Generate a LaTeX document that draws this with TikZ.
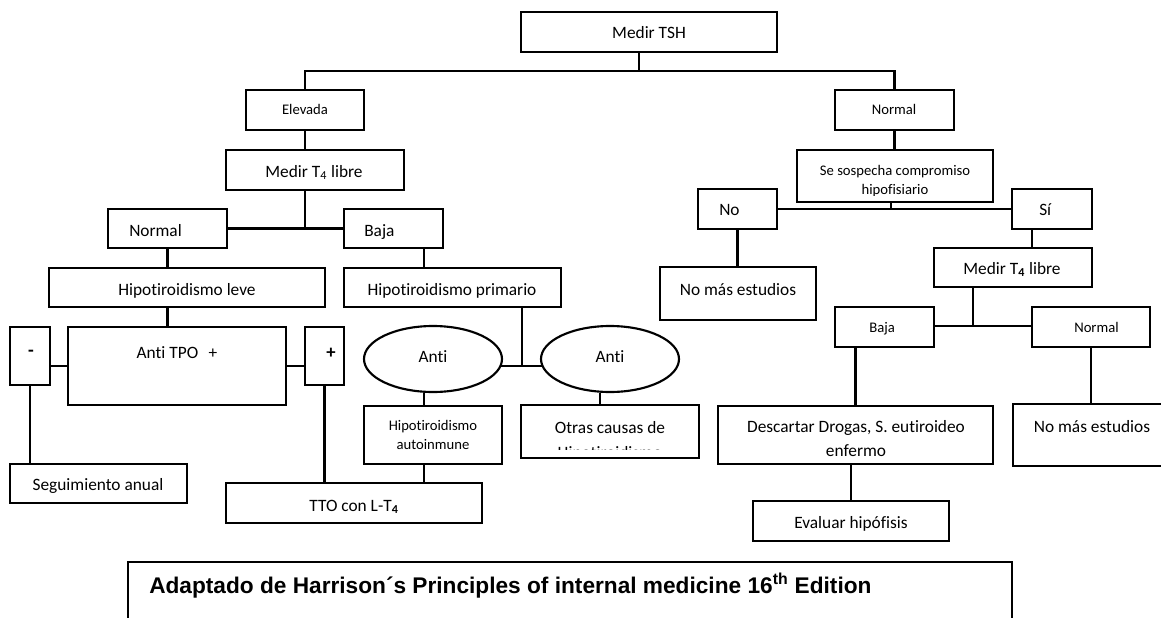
\documentclass[tikz,border=0pt]{standalone}
\usepackage{fontspec}
\setmainfont{Carlito}[Ligatures={NoCommon}]
\newfontfamily\arialfont{Liberation Sans}
\usetikzlibrary{shapes.geometric}
\newcommand\mybox[5]{\node[box, minimum width={(#4-#2)*0.75pt}, minimum height={(#5-#3)*0.75pt}] (#1) at ({(#2+#4)/2},{(#3+#5)/2}) {};}
\begin{document}
\begin{tikzpicture}[x=0.75pt,y=-0.75pt,
  box/.style={draw, line width=1.6pt, inner sep=0pt},
  ellbox/.style={draw, ellipse, line width=1.6pt, inner sep=0pt},
  ln/.style={line width=1.6pt},
  big/.style={font=\fontsize{13}{16}\selectfont, inner sep=0pt, anchor=base},
  small/.style={font=\fontsize{11}{13}\selectfont, inner sep=0pt, anchor=base},
  bigw/.style={big, anchor=base west},
  smallw/.style={small, anchor=base west}]
\useasboundingbox (0,0) rectangle (1161,618);
% boxes
\mybox{tsh}{521}{12}{777}{52}
\mybox{elev}{246}{90}{364}{130}
\mybox{t4a}{226}{150}{404}{190}
\mybox{normA}{108}{209}{227}{248}
\mybox{bajaA}{344}{209}{443}{248}
\mybox{leve}{49}{268}{325}{307}
\mybox{prim}{344}{268}{561}{307}
\mybox{minus}{10}{327}{50}{385}
\mybox{tpo}{68}{327}{286}{405}
\mybox{plus}{305}{327}{344}{385}
\node[ellbox, minimum width=103.5pt, minimum height=49.5pt] (ellA) at (433,359) {};
\node[ellbox, minimum width=103.5pt, minimum height=49.5pt] (ellB) at (610,359) {};
\mybox{auto}{364}{406}{502}{464}
\mybox{otras}{521}{405}{699}{458}
\mybox{seg}{10}{464}{187}{503}
\mybox{tto}{226}{483}{482}{523}
\mybox{normB}{835}{90}{954}{130}
\mybox{sosp}{797}{150}{993}{202}
\mybox{no}{698}{189}{777}{229}
\mybox{si}{1012}{189}{1092}{229}
\mybox{nomasA}{660}{267}{816}{320}
\mybox{t4b}{934}{248}{1092}{287}
\mybox{bajaB}{835}{307}{934}{347}
\mybox{normC}{1032}{307}{1150}{347}
\mybox{desc}{718}{406}{993}{464}
\mybox{nomasB}{1013}{404}{1172}{466}
\mybox{eval}{753}{501}{949}{541}
\mybox{foot}{128}{562}{1012}{650}
% texts
\node[big] (tsh-t) at (649,38) {Medir TSH};
\node[small] (elev-t) at (305,114) {Elevada};
\node[big] (t4a-t) at (314,177) {Medir T\textsubscript{4} libre};
\node[bigw] (normA-t) at (129,236) {Normal};
\node[bigw] (bajaA-t) at (364,236) {Baja};
\node[big] (leve-t) at (187,295) {Hipotiroidismo leve};
\node[big] (prim-t) at (452,295) {Hipotiroidismo primario};
\node[big, anchor=center, font=\fontsize{14}{16}\selectfont] (minus-t) at (31,353) {\textbf{-}};
\node[big] (tpo-t) at (177,358) {Anti TPO\hspace{0.6em}+};
\node[big, anchor=center, font=\fontsize{14}{16}\selectfont] (plus-t) at (331,353) {\textbf{+}};
\node[big] (ellA-t) at (433,362) {Anti};
\node[big] (ellB-t) at (610,362) {Anti};
\node[small] (auto-t1) at (433,430) {Hipotiroidismo};
\node[small] (auto-t2) at (433,449.5) {autoinmune};
\node[big] (otras-t1) at (610,433.5) {Otras causas de};
\begin{scope}
  \clip (523,407) rectangle (697,449.5);
  \node[big] (otras-t2) at (610,458) {Hipotiroidismo};
\end{scope}
\node[big] (seg-t) at (98,490) {Seguimiento anual};
\node[big] (tto-t) at (354,511) {TTO con L-T\textsubscript{\textbf{4}}};
\node[small] (normB-t) at (894,114) {Normal};
\node[small] (sosp-t1) at (895,175) {Se sospecha compromiso};
\begin{scope}
  \clip (799,180) rectangle (991,195.5);
  \node[small] (sosp-t2) at (895,194) {hipofisiario};
\end{scope}
\node[bigw] (no-t) at (719,215) {No};
\node[bigw] (si-t) at (1039,215) {Sí};
\node[big] (nomasA-t) at (738,295) {No más estudios};
\node[big] (t4b-t) at (1012,274) {Medir T\textsubscript{\textbf{4}} libre};
\node[smallw] (bajaB-t) at (869,332) {Baja};
\node[smallw] (normC-t) at (1074,332) {Normal};
\node[big] (desc-t1) at (856,432) {Descartar Drogas, S. eutiroideo};
\node[big] (desc-t2) at (856,456) {enfermo};
\node[big] (nomasB-t) at (1092,432) {No más estudios};
\node[big] (eval-t) at (851,528) {Evaluar hipófisis};
\node[inner sep=0pt, anchor=base west, font=\arialfont\bfseries\fontsize{17}{20}\selectfont] (foot-t) at (149,593) {Adaptado de Harrison´s Principles of internal medicine 16\textsuperscript{th} Edition};
% connectors
\coordinate (htop) at (639,71);
\draw[ln] (htop |- tsh.south) -- (htop);
\draw[ln] (elev.north) -- (elev.north |- htop) -- (normB.north |- htop) -- (normB.north);
\draw[ln] (elev.south) -- (elev.south |- t4a.north);
\coordinate (hA) at (305,228.5);
\draw[ln] (hA |- t4a.south) -- (hA);
\draw[ln] (normA.east) -- (bajaA.west);
\draw[ln] (normA.south) -- (normA.south |- leve.north);
\coordinate (xb) at (424,0);
\draw[ln] (xb |- bajaA.south) -- (xb |- prim.north);
\draw[ln] (normA.south |- leve.south) -- (normA.south |- tpo.north);
\coordinate (htpo) at (0,366);
\draw[ln] (minus.east |- htpo) -- (tpo.west |- htpo);
\draw[ln] (tpo.east |- htpo) -- (plus.west |- htpo);
\draw[ln] (minus.south) -- (minus.south |- seg.north);
\draw[ln] (plus.south) -- (plus.south |- tto.north);
\coordinate (hell) at (522,366);
\draw[ln] (hell |- prim.south) -- (hell);
\draw[ln] (500.5,366) -- (543,366);
\coordinate (xauto) at (424,0);
\draw[ln] (xauto |- ellA.south) -- (xauto |- auto.north);
\draw[ln] (xauto |- auto.south) -- (xauto |- tto.north);
\coordinate (xotr) at (600,0);
\draw[ln] (xotr |- ellB.south) -- (xotr |- otras.north);
\draw[ln] (normB.south) -- (normB.south |- sosp.north);
\coordinate (hno) at (891,209);
\draw[ln] (hno |- sosp.south) -- (hno);
\draw[ln] (no.east) -- (si.west);
\draw[ln] (no.south) -- (no.south |- nomasA.north);
\coordinate (xsi) at (1032,0);
\draw[ln] (xsi |- si.south) -- (xsi |- t4b.north);
\coordinate (hbn) at (973,326);
\draw[ln] (hbn |- t4b.south) -- (hbn);
\draw[ln] (bajaB.east |- hbn) -- (normC.west |- hbn);
\draw[ln] (desc.north |- bajaB.south) -- (desc.north);
\draw[ln] (normC.south) -- (normC.south |- nomasB.north);
\draw[ln] (eval.north |- desc.south) -- (eval.north);
\end{tikzpicture}
\end{document}
